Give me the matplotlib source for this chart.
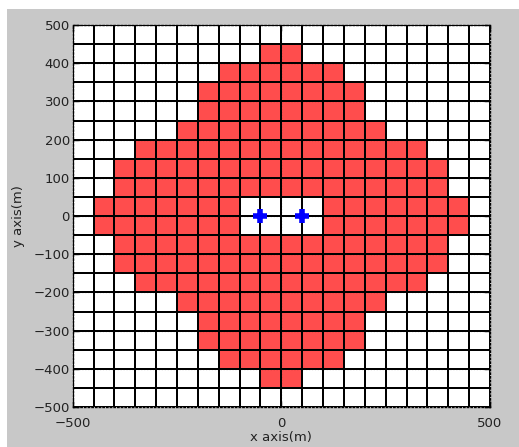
import numpy as np
import matplotlib
matplotlib.use("Agg")
import matplotlib.pyplot as plt
from matplotlib.patches import Rectangle
from matplotlib.colors import ListedColormap

# Grid of 50 m cells covering the area
cell = 50
x_edges = np.arange(-500, 501, cell)
y_edges = np.arange(-500, 501, cell)

# Half-width (m) of the covered band for each row, from bottom row to top row
row_half_width = [0, 50, 150, 200, 200, 250, 350, 400, 400, 450,
                  450, 400, 400, 350, 250, 200, 200, 150, 50, 0]

# Uncovered zone around the sources (x range, y range)
hole_x = [-100, 100]
hole_y = [-50, 50]

# Source positions
src_x = [-50, 50]
src_y = [0, 0]

xc = (x_edges[:-1] + x_edges[1:]) / 2
yc = (y_edges[:-1] + y_edges[1:]) / 2
cover = np.zeros((len(yc), len(xc)))
for i, hw in enumerate(row_half_width):
    cover[i] = (np.abs(xc) < hw).astype(float)
XX, YY = np.meshgrid(xc, yc)
cover[(XX > hole_x[0]) & (XX < hole_x[1]) & (YY > hole_y[0]) & (YY < hole_y[1])] = 0

plt.rcParams['font.family'] = ['DejaVu Sans']

fig = plt.figure(figsize=(5.19, 4.47), dpi=100)
fig.patch.set_facecolor('white')
fig.patches.append(Rectangle((7 / 519, 0), 1 - 7 / 519, (447 - 9) / 447,
                             transform=fig.transFigure, facecolor='#c8c8c8',
                             edgecolor='none', zorder=-10))

ax = fig.add_axes([72.7 / 519, 40 / 447, (490 - 72.7) / 519, (407 - 25) / 447])
ax.set_facecolor('white')

cmap = ListedColormap(['white', '#ff4d4d'])
ax.pcolormesh(x_edges, y_edges, cover, cmap=cmap, vmin=0, vmax=1,
              edgecolors='black', linewidth=1.3, zorder=1)

ax.plot(src_x, src_y, linestyle='none', marker='+', color='#0000ff',
        markersize=10, markeredgewidth=4, zorder=5)

ax.set_xlim(-500, 500)
ax.set_ylim(-500, 500)
ax.set_xticks([-500, 0, 500])
ax.set_yticks(np.arange(-500, 501, 100))
ax.grid(True, linestyle=':', color='black', linewidth=0.8, zorder=2)
ax.set_axisbelow(False)

for s in ax.spines.values():
    s.set_linestyle(':')
    s.set_linewidth(1.0)
    s.set_color('black')

ax.tick_params(direction='in', length=4, width=1, top=True, right=True,
               labelsize=9.5, colors='black')
ax.tick_params(axis='x', pad=7)
ax.tick_params(axis='y', pad=2)
for lbl in ax.get_xticklabels() + ax.get_yticklabels():
    lbl.set_color('#222222')
ax.set_xlabel('x axis(m)', fontsize=9.5, labelpad=1, color='#222222')
ax.set_ylabel('y axis(m)', fontsize=9.5, labelpad=6, color='#222222')

fig.savefig('out.png', dpi=100)
